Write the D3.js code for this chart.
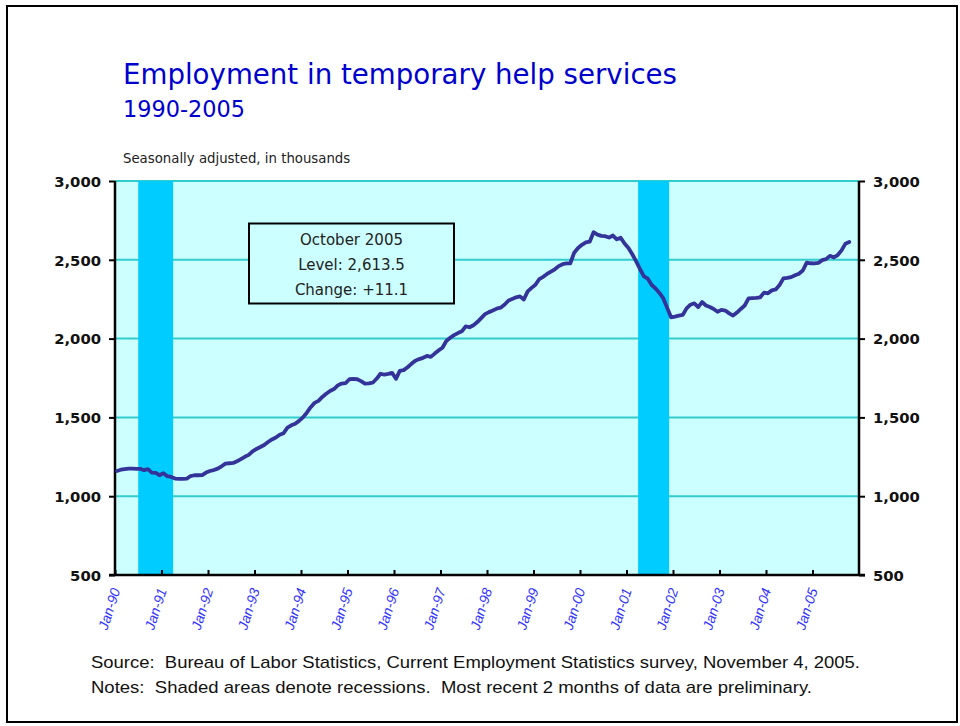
<!DOCTYPE html>
<html>
<head>
<meta charset="utf-8">
<script src="https://cdn.jsdelivr.net/npm/d3@7"></script>
<style>
body { margin: 0; background: white; }
svg { display: block; }
</style>
</head>
<body>
<div id="chart"></div>
<script>
// monthly level, Jan 1990 - Oct 2005 (thousands, seasonally adjusted)
var start_year = 1990
var temp_help = [
    1160,1168,1172,1175,1175,1174,1174,1165,1172,1150,1148,1133,
    1146,1127,1122,1112,1110,1110,1111,1128,1133,1133,1134,1150,
    1160,1166,1175,1190,1207,1209,1211,1222,1235,1250,1262,1285,
    1300,1312,1325,1344,1360,1372,1390,1400,1435,1450,1460,1478,
    1500,1530,1565,1592,1605,1630,1650,1668,1680,1703,1715,1718,
    1742,1744,1742,1730,1714,1716,1720,1745,1777,1772,1776,1783,
    1745,1795,1800,1818,1840,1860,1870,1878,1890,1884,1905,1925,
    1942,1985,2005,2022,2035,2046,2078,2072,2085,2105,2130,2155,
    2168,2178,2190,2196,2215,2240,2252,2262,2268,2248,2300,2322,
    2342,2378,2392,2410,2425,2440,2460,2472,2477,2478,2545,2575,
    2595,2610,2615,2675,2660,2652,2650,2641,2654,2630,2640,2603,
    2575,2535,2490,2440,2395,2380,2340,2318,2290,2255,2195,2135,
    2140,2146,2150,2192,2215,2224,2200,2232,2210,2200,2188,2170,
    2182,2178,2160,2146,2165,2188,2210,2255,2257,2259,2262,2292,
    2287,2306,2312,2340,2382,2385,2390,2402,2412,2432,2482,2478,
    2477,2480,2498,2504,2525,2515,2530,2560,2602.4,2613.5
]
var tick_labels = ["Jan-90","Jan-91","Jan-92","Jan-93","Jan-94","Jan-95","Jan-96","Jan-97",
    "Jan-98","Jan-99","Jan-00","Jan-01","Jan-02","Jan-03","Jan-04","Jan-05"]
var y_ticks = [500, 1000, 1500, 2000, 2500, 3000]
var recessions = [
    {start: "1990-07", end: "1991-03"},
    {start: "2001-04", end: "2001-11"}
]
var note_lines = ["October 2005", "Level: 2,613.5", "Change: +11.1"]

var W = 960, H = 726
var plot = {left: 115, right: 859, top: 181, bottom: 575}
var n_slots = 192

function month_index(s){
    var p = s.split("-")
    return (+p[0]-start_year)*12 + (+p[1]-1)
}

var svg = d3.select("#chart").append("svg")
    .attr("width", W)
    .attr("height", H)

svg.append("rect")
    .attr("x", 7).attr("y", 6)
    .attr("width", 950).attr("height", 716)
    .attr("fill", "white")
    .attr("stroke", "black")
    .attr("stroke-width", 2)

var x = d3.scaleLinear().domain([0, n_slots]).range([plot.left, plot.right])
var y = d3.scaleLinear().domain([500, 3000]).range([plot.bottom, plot.top])

// titles
svg.append("text")
    .text("Employment in temporary help services")
    .attr("x", 123).attr("y", 84)
    .attr("font-family", "DejaVu Sans")
    .attr("font-size", 27.6)
    .attr("textLength", 554)
    .attr("lengthAdjust", "spacingAndGlyphs")
    .attr("fill", "#0000cc")
svg.append("text")
    .text("1990-2005")
    .attr("x", 123).attr("y", 116.5)
    .attr("font-family", "DejaVu Sans")
    .attr("font-size", 22.4)
    .attr("fill", "#0000cc")
svg.append("text")
    .text("Seasonally adjusted, in thousands")
    .attr("x", 123).attr("y", 162.5)
    .attr("font-family", "DejaVu Sans")
    .attr("font-size", 13.3)
    .attr("fill", "#222")

// plot background
svg.append("rect")
    .attr("x", plot.left).attr("y", plot.top)
    .attr("width", plot.right-plot.left)
    .attr("height", plot.bottom-plot.top)
    .attr("fill", "#ccffff")

svg.selectAll(".grid")
    .data(y_ticks.filter(function(d){ return d > 500 })).enter()
    .append("line")
    .attr("class", "grid")
    .attr("x1", plot.left).attr("x2", plot.right)
    .attr("y1", function(d){ return y(d) })
    .attr("y2", function(d){ return y(d) })
    .attr("stroke", "#33cccc")
    .attr("stroke-width", 2)

svg.selectAll(".recession")
    .data(recessions).enter()
    .append("rect")
    .attr("class", "recession")
    .attr("x", function(d){ return x(month_index(d.start)) })
    .attr("width", function(d){ return x(month_index(d.end)+1) - x(month_index(d.start)) })
    .attr("y", plot.top)
    .attr("height", plot.bottom-plot.top)
    .attr("fill", "#00ccff")

// axes
var left_axis = svg.append("g")
    .attr("transform", "translate(" + plot.left + ",0)")
    .call(d3.axisLeft(y).tickValues(y_ticks).tickSize(6).tickFormat(d3.format(",")))
var right_axis = svg.append("g")
    .attr("transform", "translate(" + plot.right + ",0)")
    .call(d3.axisRight(y).tickValues(y_ticks).tickSize(6).tickFormat(d3.format(",")))
var bottom_axis = svg.append("g")
    .attr("transform", "translate(0," + plot.bottom + ")")
    .call(d3.axisBottom(x).tickValues(d3.range(tick_labels.length).map(function(i){ return i*12 }))
        .tickSize(-5).tickFormat(function(d, i){ return tick_labels[i] }))

;[left_axis, right_axis, bottom_axis].forEach(function(g){
    g.select(".domain").attr("stroke", "black").attr("stroke-width", 2.5)
    g.selectAll(".tick line").attr("stroke", "black").attr("stroke-width", 2)
})
left_axis.select(".domain").attr("d", "M0," + (plot.top) + "V" + plot.bottom)
right_axis.select(".domain").attr("d", "M0," + (plot.top) + "V" + plot.bottom)
bottom_axis.select(".domain").attr("d", "M" + (plot.left-6) + ",0H" + (plot.right+6))

left_axis.selectAll(".tick text")
    .attr("x", -14).attr("dy", "0.36em")
right_axis.selectAll(".tick text")
    .attr("x", 14).attr("dy", "0.36em")
;[left_axis, right_axis].forEach(function(g){
    g.selectAll(".tick text")
        .attr("font-family", "DejaVu Sans")
        .attr("font-weight", "bold")
        .attr("font-size", 14.8)
        .attr("fill", "#111")
})

bottom_axis.selectAll(".tick text")
    .attr("font-family", "Liberation Sans")
    .attr("font-style", "italic")
    .attr("font-size", 14)
    .attr("fill", "#3333ff")
    .attr("text-anchor", "end")
    .attr("y", 0).attr("dy", 0)
    .attr("transform", "translate(5,15) rotate(-72)")

// series
var line = d3.line()
    .x(function(d, i){ return x(i+0.5) })
    .y(function(d){ return y(d) })
svg.append("path")
    .datum(temp_help)
    .attr("d", line)
    .attr("fill", "none")
    .attr("stroke", "#333399")
    .attr("stroke-width", 3.8)
    .attr("stroke-linejoin", "round")
    .attr("stroke-linecap", "round")

// callout box
svg.append("rect")
    .attr("x", 249).attr("y", 223.5)
    .attr("width", 205).attr("height", 80)
    .attr("fill", "#ccffff")
    .attr("stroke", "black")
    .attr("stroke-width", 2)
svg.selectAll(".note")
    .data(note_lines).enter()
    .append("text")
    .attr("class", "note")
    .text(function(d){ return d })
    .attr("x", 351.5)
    .attr("y", function(d, i){ return 244.5 + i*25 })
    .attr("text-anchor", "middle")
    .attr("font-family", "DejaVu Sans")
    .attr("font-size", 15)
    .attr("fill", "#222")

// footer
svg.append("text")
    .text("Source:  Bureau of Labor Statistics, Current Employment Statistics survey, November 4, 2005.")
    .attr("x", 91).attr("y", 668)
    .attr("font-family", "Liberation Sans Narrow, Liberation Sans")
    .attr("font-size", 17)
    .attr("textLength", 769)
    .attr("lengthAdjust", "spacingAndGlyphs")
    .style("white-space", "pre")
    .attr("fill", "#111")
svg.append("text")
    .text("Notes:  Shaded areas denote recessions.  Most recent 2 months of data are preliminary.")
    .attr("x", 91).attr("y", 693)
    .attr("font-family", "Liberation Sans Narrow, Liberation Sans")
    .attr("font-size", 17)
    .attr("textLength", 721)
    .attr("lengthAdjust", "spacingAndGlyphs")
    .style("white-space", "pre")
    .attr("fill", "#111")
</script>
</body>
</html>
